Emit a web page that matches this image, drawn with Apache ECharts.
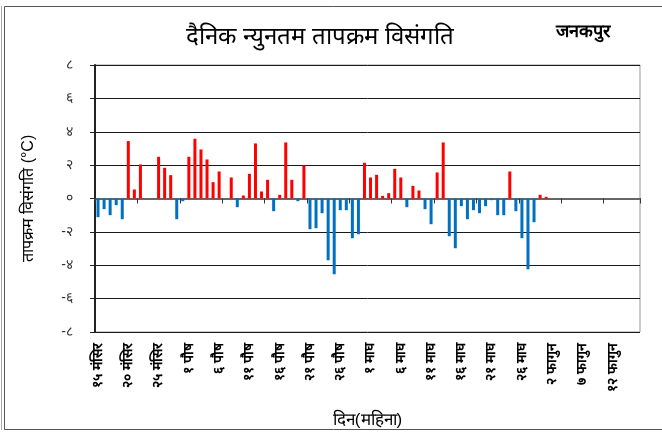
<!DOCTYPE html>
<html>
<head>
<meta charset="utf-8">
<script src="https://cdn.jsdelivr.net/npm/echarts@6/dist/echarts.min.js"></script>
<style>
html,body{margin:0;padding:0;background:#fff;}
#chart{width:662px;height:434px;}
</style>
</head>
<body>
<div id="chart"></div>
<script>
const categories = [
  '१५ मंसिर','१६ मंसिर','१७ मंसिर','१८ मंसिर','१९ मंसिर','२० मंसिर','२१ मंसिर','२२ मंसिर','२३ मंसिर','२४ मंसिर',
  '२५ मंसिर','२६ मंसिर','२७ मंसिर','२८ मंसिर','२९ मंसिर',
  '१ पौष','२ पौष','३ पौष','४ पौष','५ पौष','६ पौष','७ पौष','८ पौष','९ पौष','१० पौष',
  '११ पौष','१२ पौष','१३ पौष','१४ पौष','१५ पौष','१६ पौष','१७ पौष','१८ पौष','१९ पौष','२० पौष',
  '२१ पौष','२२ पौष','२३ पौष','२४ पौष','२५ पौष','२६ पौष','२७ पौष','२८ पौष','२९ पौष','३० पौष',
  '१ माघ','२ माघ','३ माघ','४ माघ','५ माघ','६ माघ','७ माघ','८ माघ','९ माघ','१० माघ',
  '११ माघ','१२ माघ','१३ माघ','१४ माघ','१५ माघ','१६ माघ','१७ माघ','१८ माघ','१९ माघ','२० माघ',
  '२१ माघ','२२ माघ','२३ माघ','२४ माघ','२५ माघ','२६ माघ','२७ माघ','२८ माघ','२९ माघ',
  '१ फागुन','२ फागुन','३ फागुन','४ फागुन','५ फागुन','६ फागुन','७ फागुन','८ फागुन','९ फागुन','१० फागुन',
  '११ फागुन','१२ फागुन','१३ फागुन','१४ फागुन','१५ फागुन','१६ फागुन'
];

const anomaly = [
  -1.12, -0.64, -1.0, -0.4, -1.24, 3.44, 0.54, 2.04, null, null,
  2.5, 1.84, 1.4, -1.24, -0.16,
  2.5, 3.58, 2.94, 2.34, 0.98, 1.62, null, 1.26, -0.52, 0.18,
  1.48, 3.3, 0.42, 1.12, -0.76, 0.22, 3.36, 1.12, -0.16, 1.98,
  -1.84, -1.78, -0.88, -3.7, -4.54, -0.7, -0.7, -2.38, -2.14, 2.14,
  1.26, 1.42, 0.16, 0.32, 1.78, 1.26, -0.52, 0.76, 0.48, -0.64,
  -1.54, 1.56, 3.36, -2.26, -2.98, -0.46, -1.24, -0.7, -0.88, -0.46,
  -0.1, -1.0, -1.0, 1.62, -0.76, -2.38, -4.24, -1.42, 0.22,
  0.1, null, null, null, null, null, null, null, null, null,
  null, null, null, null, null, null
];

const yTickValues = [-8, -6, -4, -2, 0, 2, 4, 6, 8];
const yTickLabels = ['-८', '-६', '-४', '-२', '०', '२', '४', '६', '८'];

const titleText = 'दैनिक न्युनतम तापक्रम विसंगति';
const stationText = 'जनकपुर';
const yAxisTitle = 'तापक्रम विसंगति (°C)';
const xAxisTitle = 'दिन(महिना)';

const POS_COLOR = '#FF0000';
const NEG_COLOR = '#0070C0';

const chart = echarts.init(document.getElementById('chart'), null, {renderer: 'canvas'});

const option = {
  animation: false,
  backgroundColor: '#fff',
  title: [
    {text: titleText, left: 315, top: 20, textAlign: 'center',
     textStyle: {fontSize: 24, fontWeight: 'normal', color: '#000'}},
    {text: stationText, left: 578, top: 18, textAlign: 'center',
     textStyle: {fontSize: 18, fontWeight: 'bold', color: '#000'}}
  ],
  graphic: [
    {type: 'rect', shape: {x: 4.5, y: 6.5, width: 700, height: 423}, style: {fill: 'none', stroke: '#555', lineWidth: 1}, z: -1},
    {type: 'line', shape: {x1: 1.5, y1: 6, x2: 1.5, y2: 430}, style: {stroke: '#aaa', lineWidth: 1}, z: -1}
  ],
  grid: {left: 95, top: 65, right: 22, bottom: 102, show: true, borderColor: '#999', borderWidth: 1, containLabel: false},
  xAxis: [
    {
      type: 'category', data: categories, position: 'bottom',
      axisLine: {show: false, onZero: false},
      axisTick: {show: false},
      axisLabel: {interval: 4, rotate: 90, margin: 11, fontSize: 14, fontWeight: 'bold', color: '#000', padding: [8, 0, 0, 0]},
      splitLine: {show: false},
      name: xAxisTitle, nameLocation: 'middle', nameGap: 80,
      nameTextStyle: {fontSize: 17, color: '#000'}
    },
    {
      type: 'category', data: categories, position: 'bottom',
      axisLine: {show: true, onZero: true, onZeroAxisIndex: 0, lineStyle: {color: '#666', width: 2}},
      axisTick: {show: true, interval: 6, length: 5, lineStyle: {color: '#333', width: 1}},
      axisLabel: {show: false},
      splitLine: {show: false}
    }
  ],
  yAxis: {
    type: 'value', min: -8, max: 8, interval: 2,
    axisLine: {show: true, lineStyle: {color: '#222', width: 2}},
    axisTick: {show: true, length: 5, lineStyle: {color: '#222'}},
    axisLabel: {
      margin: 22, fontSize: 14, color: '#333',
      formatter: v => yTickLabels[yTickValues.indexOf(v)]
    },
    splitLine: {show: true, lineStyle: {color: '#1a1a1a', width: 1}},
    name: yAxisTitle, nameLocation: 'middle', nameGap: 58, nameRotate: 90,
    nameTextStyle: {fontSize: 16, color: '#000'}
  },
  series: [{
    type: 'bar', xAxisIndex: 0, yAxisIndex: 0,
    data: anomaly, barWidth: 3,
    itemStyle: {color: p => (p.value >= 0 ? POS_COLOR : NEG_COLOR)}
  }]
};
chart.setOption(option);
</script>
</body>
</html>
